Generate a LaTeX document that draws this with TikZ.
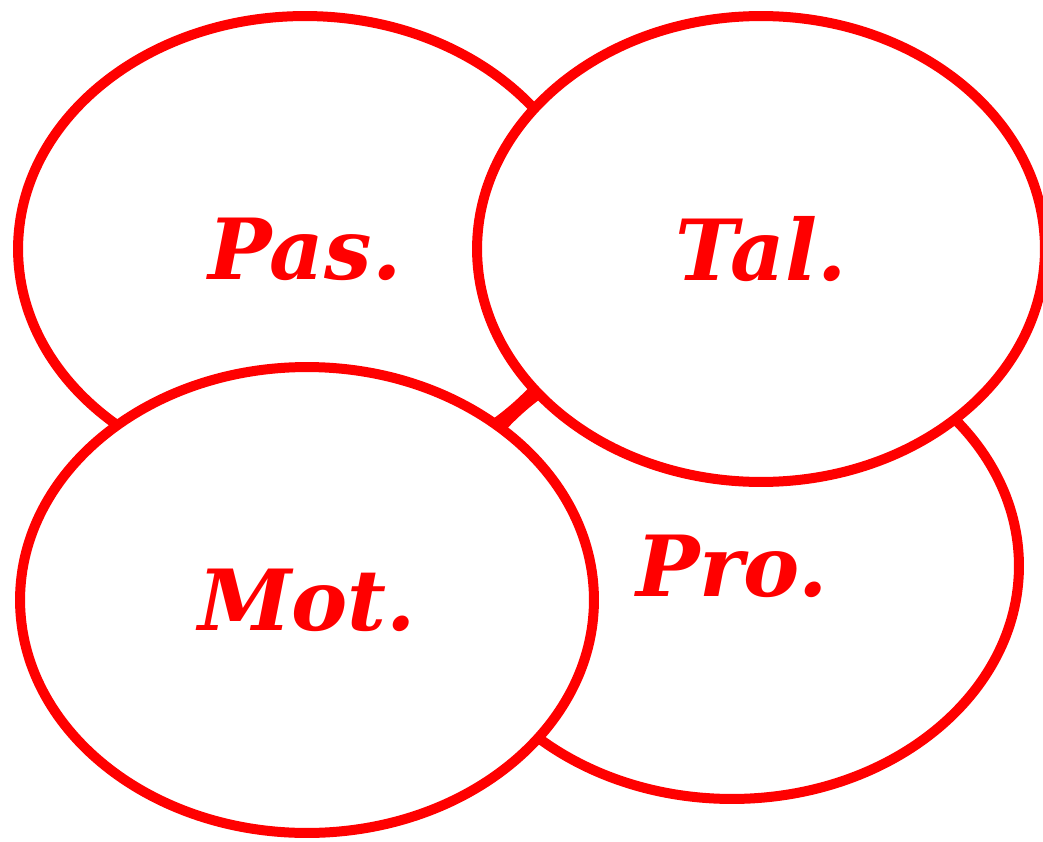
\documentclass[tikz,border=0pt]{standalone}
\usepackage{fontspec}
\setmainfont{DejaVu Serif}
\usetikzlibrary{shapes.geometric}
\definecolor{vred}{HTML}{FF0000}

\begin{document}
\begin{tikzpicture}[x=0.02cm,y=-0.02cm,blob/.style={ellipse,draw=vred,line width=0.2cm,fill=white,minimum width=11.48cm,minimum height=9.32cm,inner sep=0pt,text=vred,font=\fontsize{48}{48}\selectfont\bfseries\itshape}]
 \useasboundingbox (0,0) rectangle (1043,841);
 \clip (0,0) rectangle (1043,841);
 \node[blob] (pas) at (305,249) {Pas.};
 \node[blob] (pro) at (732,566) {Pro.};
 \node[blob,minimum width=11.36cm] (tal) at (761,249) {Tal.};
 \node[blob] (mot) at (307,600) {Mot.};
\end{tikzpicture}
\end{document}
